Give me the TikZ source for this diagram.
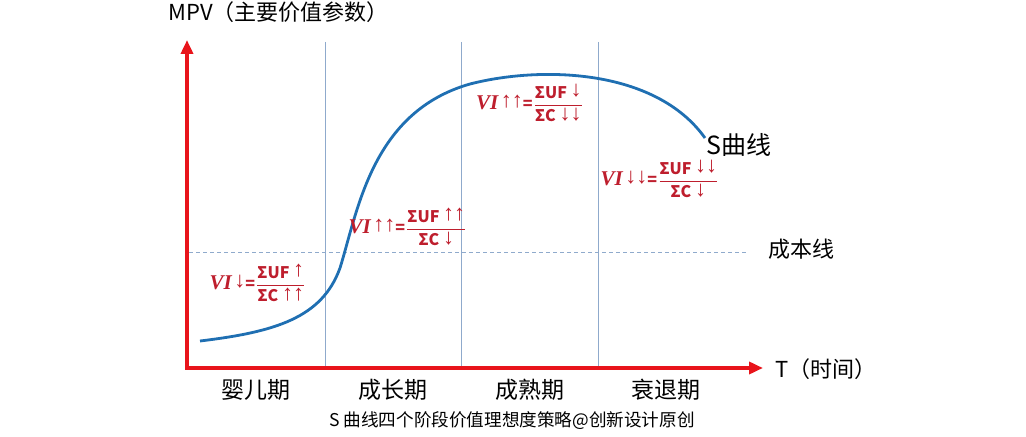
\documentclass[tikz,border=0pt]{standalone}
\usepackage{fontspec}
\usepackage{amsmath}
\setmainfont{Noto Sans CJK SC}
\newfontfamily\vifont{Liberation Serif}
\newfontfamily\arrowfont{Liberation Sans}
\usetikzlibrary{arrows.meta}

\definecolor{axisred}{HTML}{E8141B}
\definecolor{curveblue}{HTML}{1F6FB2}
\definecolor{gridblue}{HTML}{8FAACC}
\definecolor{formred}{HTML}{BE1E2D}

\newcommand{\arr}[1]{{\arrowfont\fontsize{11}{12}\selectfont\raisebox{0.6pt}{#1}}}
\newcommand{\vimark}[1]{{\fontsize{10.5}{12}\selectfont\vifont\bfseries\itshape VI}\,\arr{#1}=}

\begin{document}
\begin{tikzpicture}[x=0.5pt, y=-0.5pt]
    \tikzstyle{axis} = [draw=axisred, line width=2pt, {Triangle[length=7pt,width=6pt]}-{Triangle[length=7pt,width=6pt]}]
    \tikzstyle{stageline} = [draw=gridblue, line width=0.4pt]
    \tikzstyle{costline} = [draw=gridblue, line width=0.45pt, dash pattern=on 2pt off 1.5pt]
    \tikzstyle{label} = [font=\fontsize{11}{12}\selectfont, inner sep=0pt]
    \tikzstyle{stage} = [font=\fontsize{11.5}{12}\selectfont, inner sep=0pt]
    \tikzstyle{formula} = [text=formred, font=\fontsize{8}{10}\selectfont\bfseries, inner sep=0pt]

    \useasboundingbox (0,0) rectangle (1026,437);

    \coordinate (origin) at (187,368);
    \coordinate (ytip) at (187,40);
    \coordinate (xtip) at (763,368);

    % stage borders and cost line
    \foreach \x [count=\i] in {325,461,598}
        \draw[stageline] (\x,42) coordinate (top\i) -- (\x,368) coordinate (bot\i);
    \coordinate (costL) at (189,252);
    \coordinate (costR) at (748,252);
    \draw[costline] (costL) -- (costR);

    % S curve
    \draw[curveblue, line width=1.4pt] (200,341) .. controls (275,332) and (322,318) .. (340,268)
        .. controls (358,210) and (372,112) .. (470,84)
        .. controls (540,66) and (655,68) .. (705,138);

    % axes
    \draw[axis] (ytip) -- (origin) -- (xtip);

    \node[label, anchor=west] (mpv) at (168,12) {MPV（主要价值参数）};
    \node[label, anchor=west] (time) at (775,369) {T（时间）};
    \node[label, anchor=west, font=\fontsize{12.5}{14}\selectfont] (scurve) at (706,145) {S曲线};
    \node[label, anchor=west] (cost) at (768,249) {成本线};

    \node[stage] (infant) at (256,390) {婴儿期};
    \node[stage] (growth) at (393,390) {成长期};
    \node[stage] (mature) at (530,390) {成熟期};
    \node[stage] (decline) at (666,390) {衰退期};

    \node[font=\fontsize{8.8}{10}\selectfont, inner sep=0pt] (caption) at (512,421) {S 曲线四个阶段价值理想度策略@创新设计原创};

    \node[formula] (vione) at (258,283) {\vimark{↓}$\dfrac{\text{ΣUF \arr{↑}}}{\text{ΣC \arr{↑↑}}}$};
    \node[formula] (vitwo) at (408,227) {\vimark{↑↑}$\dfrac{\text{ΣUF \arr{↑↑}}}{\text{ΣC \arr{↓}}}$};
    \node[formula] (vithree) at (530,103) {\vimark{↑↑}$\dfrac{\text{ΣUF \arr{↓}}}{\text{ΣC \arr{↓↓}}}$};
    \node[formula] (vifour) at (660,179) {\vimark{↓↓}$\dfrac{\text{ΣUF \arr{↓↓}}}{\text{ΣC \arr{↓}}}$};
\end{tikzpicture}
\end{document}
